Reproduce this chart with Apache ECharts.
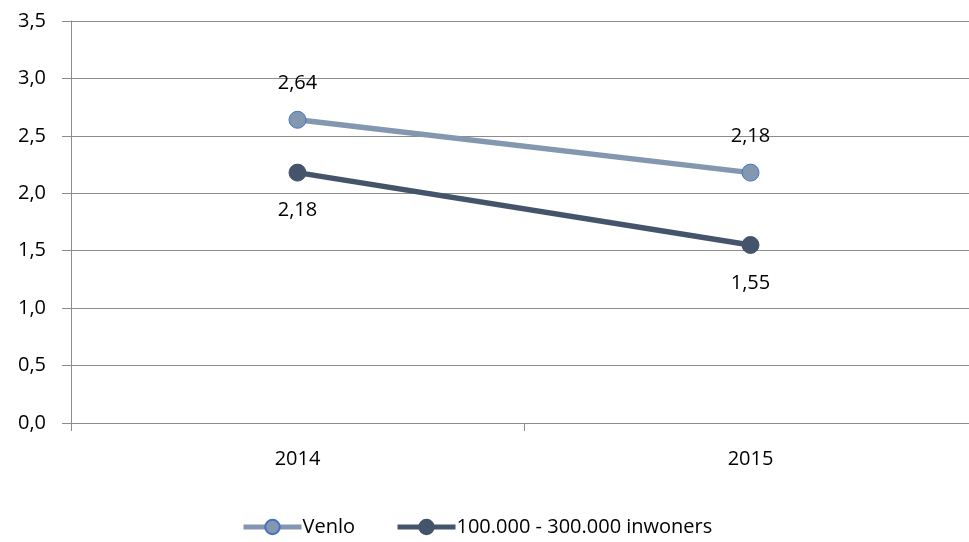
<!DOCTYPE html>
<html>
<head>
<meta charset="utf-8">
<script src="https://cdn.jsdelivr.net/npm/echarts@6/dist/echarts.min.js"></script>
<style>
  html, body { margin: 0; padding: 0; background: #fff; overflow: hidden; }
  /* canvas is a little wider than the window so the plot runs past the right edge */
  #chart { width: 977px; height: 542px; }
</style>
</head>
<body>
<div id="chart"></div>
<script>
// Categories (years) and values per series
const years = ['2014', '2015'];
const venlo = [2.64, 2.18];
const inwoners = [2.18, 1.55];
const seriesNames = ['Venlo', '100.000 - 300.000 inwoners'];

const fmt = v => v.toFixed(2).replace('.', ',');
const font = 'Open Sans, Liberation Sans, sans-serif';
const fs = 20;

const chart = echarts.init(document.getElementById('chart'));
chart.setOption({
  animation: false,
  grid: { left: 71, right: 0, top: 21, bottom: 119 },
  legend: {
    top: 512,
    left: 236,
    itemWidth: 58,
    itemHeight: 18,
    itemGap: 40,
    lineStyle: { width: 5 },
    textStyle: { fontFamily: font, fontSize: fs, color: '#000', padding: [0, 0, 0, -4] },
    data: seriesNames
  },
  xAxis: {
    type: 'category',
    data: years,
    boundaryGap: true,
    axisLine: { lineStyle: { color: '#8c8c8c', width: 1 } },
    axisTick: { show: true, length: 8, lineStyle: { color: '#8c8c8c' } },
    axisLabel: { fontFamily: font, fontSize: fs, color: '#000', margin: 26 }
  },
  yAxis: {
    type: 'value',
    min: 0,
    max: 3.5,
    interval: 0.5,
    axisLine: { show: true, lineStyle: { color: '#8c8c8c' } },
    axisTick: { show: true, length: 9, lineStyle: { color: '#8c8c8c' } },
    splitLine: { lineStyle: { color: '#8c8c8c', width: 1 } },
    axisLabel: {
      fontFamily: font, fontSize: fs, color: '#000', margin: 25,
      formatter: v => v.toFixed(1).replace('.', ',')
    }
  },
  series: [
    {
      name: seriesNames[0],
      type: 'line',
      data: venlo,
      symbol: 'circle',
      symbolSize: 17,
      lineStyle: { color: '#8497b0', width: 5.5 },
      itemStyle: { color: '#8497b0', borderColor: '#4472c4', borderWidth: 1 },
      label: {
        show: true, position: 'top', distance: 17,
        fontFamily: font, fontSize: fs, color: '#000',
        formatter: p => fmt(p.value)
      },
      z: 3
    },
    {
      name: seriesNames[1],
      type: 'line',
      data: inwoners,
      symbol: 'circle',
      symbolSize: 17,
      lineStyle: { color: '#44546a', width: 5.5 },
      itemStyle: { color: '#44546a', borderColor: '#44546a', borderWidth: 1 },
      label: {
        show: true, position: 'bottom', distance: 19,
        fontFamily: font, fontSize: fs, color: '#000',
        formatter: p => fmt(p.value)
      },
      z: 2
    }
  ]
});
</script>
</body>
</html>
